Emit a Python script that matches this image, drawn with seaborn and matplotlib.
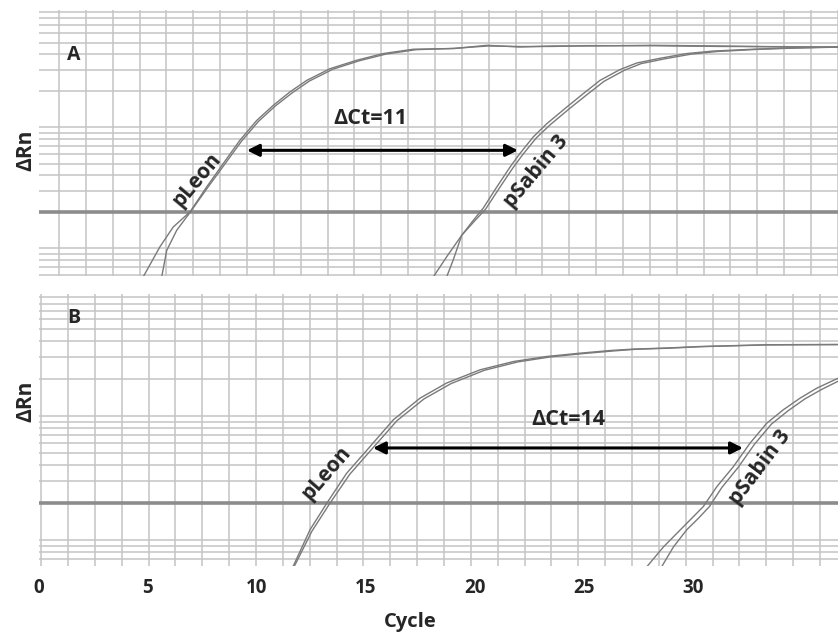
import matplotlib
matplotlib.use("Agg")
import matplotlib.pyplot as plt
from matplotlib.ticker import LogLocator, MultipleLocator, NullFormatter, FixedLocator
import seaborn as sns
import pandas as pd

# ---- data (cycle, delta Rn) ----
threshold = 0.2

# panel A
leon_a_cyc_1 = [4.78, 5.55, 6.16, 6.93, 7.69, 8.45, 9.22, 9.99, 10.75, 11.51, 12.28, 13.35, 14.57,
                15.79, 17.17, 19.0, 20.54, 22.06, 23.58, 25.12, 28.17, 31.24, 34.30, 36.65]
leon_a_rn_1 = [0.058, 0.103, 0.150, 0.200, 0.321, 0.501, 0.782, 1.14, 1.52, 1.96, 2.44, 3.05, 3.58,
               4.07, 4.42, 4.47, 4.76, 4.61, 4.70, 4.70, 4.76, 4.70, 4.61, 4.61]
leon_a_cyc_2 = [5.63, 5.86, 6.32, 6.95, 7.74, 8.52, 9.30, 10.07, 10.84, 11.62, 12.40, 13.48, 14.70,
                15.92, 17.30, 19.1, 20.6, 22.1, 23.6, 25.1, 28.2, 31.2, 34.3, 36.65]
leon_a_rn_2 = [0.058, 0.096, 0.141, 0.200, 0.318, 0.495, 0.772, 1.12, 1.50, 1.93, 2.41, 3.02, 3.55,
               4.03, 4.38, 4.50, 4.70, 4.65, 4.66, 4.73, 4.72, 4.66, 4.64, 4.58]

sabin_a_cyc_1 = [18.09, 18.70, 19.39, 19.92, 20.38, 21.00, 21.61, 22.06, 22.67, 23.29, 24.21, 24.97,
                 25.73, 26.65, 27.42, 28.49, 29.71, 30.93, 32.77, 34.30, 36.65]
sabin_a_rn_1 = [0.058, 0.085, 0.128, 0.170, 0.215, 0.321, 0.470, 0.607, 0.832, 1.07, 1.47, 1.90,
                2.44, 3.00, 3.40, 3.72, 4.07, 4.27, 4.42, 4.52, 4.62]
sabin_a_cyc_2 = [18.70, 19.00, 19.39, 19.98, 20.48, 21.12, 21.74, 22.20, 22.82, 23.45, 24.38, 25.15,
                 25.92, 26.85, 27.62, 28.70, 29.90, 31.10, 32.90, 34.40, 36.65]
sabin_a_rn_2 = [0.058, 0.080, 0.128, 0.168, 0.210, 0.315, 0.462, 0.598, 0.820, 1.05, 1.45, 1.87,
                2.40, 2.96, 3.36, 3.68, 4.02, 4.23, 4.40, 4.50, 4.60]

# panel B
leon_b_cyc_1 = [11.65, 12.43, 13.20, 14.11, 15.18, 16.25, 17.48, 18.70, 20.23, 21.76, 23.29, 24.82,
                26.19, 27.25, 28.79, 30.32, 33.38, 36.65]
leon_b_rn_1 = [0.061, 0.121, 0.198, 0.345, 0.565, 0.929, 1.39, 1.84, 2.35, 2.74, 3.01, 3.20,
               3.36, 3.45, 3.52, 3.62, 3.74, 3.76]
leon_b_cyc_2 = [11.70, 12.52, 13.32, 14.25, 15.33, 16.42, 17.66, 18.90, 20.43, 21.96, 23.49, 25.0,
                26.4, 27.4, 28.9, 30.4, 33.4, 36.65]
leon_b_rn_2 = [0.061, 0.118, 0.195, 0.338, 0.556, 0.915, 1.37, 1.82, 2.33, 2.72, 2.99, 3.18,
               3.34, 3.44, 3.51, 3.61, 3.73, 3.75]

sabin_b_cyc_1 = [27.88, 28.64, 29.25, 29.86, 30.47, 31.09, 31.85, 32.61, 33.38, 34.14, 34.91, 35.67, 36.65]
sabin_b_rn_1 = [0.061, 0.088, 0.113, 0.145, 0.186, 0.269, 0.390, 0.602, 0.873, 1.12, 1.39, 1.67, 2.01]
sabin_b_cyc_2 = [28.56, 29.10, 29.71, 30.25, 30.75, 31.32, 32.07, 32.83, 33.60, 34.36, 35.13, 35.89, 36.65]
sabin_b_rn_2 = [0.061, 0.088, 0.121, 0.150, 0.186, 0.265, 0.385, 0.595, 0.860, 1.10, 1.37, 1.63, 1.90]

# delta Ct annotations: (Ct pLeon, Ct pSabin 3, label)
dct_a = (9.54, 21.97, "ΔCt=11")
dct_b = (15.32, 32.29, "ΔCt=14")

x_ticks = [0, 5, 10, 15, 20, 25, 30]


def make_frame(traces):
    rows = []
    for name, cyc, rn in traces:
        rows.append(pd.DataFrame({"cycle": cyc, "rn": rn, "trace": name}))
    return pd.concat(rows, ignore_index=True)


df_a = make_frame([("leon1", leon_a_cyc_1, leon_a_rn_1), ("leon2", leon_a_cyc_2, leon_a_rn_2),
                   ("sabin1", sabin_a_cyc_1, sabin_a_rn_1), ("sabin2", sabin_a_cyc_2, sabin_a_rn_2)])
df_b = make_frame([("leon1", leon_b_cyc_1, leon_b_rn_1), ("leon2", leon_b_cyc_2, leon_b_rn_2),
                   ("sabin1", sabin_b_cyc_1, sabin_b_rn_1), ("sabin2", sabin_b_cyc_2, sabin_b_rn_2)])

sns.set_theme(style="white")
plt.rcParams["font.family"] = ["Open Sans", "DejaVu Sans"]
plt.rcParams["font.weight"] = "bold"

fig = plt.figure(figsize=(8.38, 6.33), dpi=100)
ax_a = fig.add_axes([0.0465, 0.564, 0.9535, 0.420])
ax_b = fig.add_axes([0.0465, 0.106, 0.9535, 0.4297])

grid_col = "#c4c4c4"
curve_col = "#7a7a7a"


def style_panel(ax, df, ylim, grid_offset):
    ax.set_yscale("log")
    sns.lineplot(data=df, x="cycle", y="rn", units="trace", estimator=None, sort=False,
                 color=curve_col, lw=1.0, ax=ax, legend=False)
    ax.set_xlim(0, 36.65)
    ax.set_ylim(*ylim)
    ax.yaxis.set_major_locator(LogLocator(base=10, numticks=10))
    ax.yaxis.set_minor_locator(LogLocator(base=10, subs=range(2, 10), numticks=20))
    ax.yaxis.set_major_formatter(NullFormatter())
    ax.yaxis.set_minor_formatter(NullFormatter())
    ax.xaxis.set_major_locator(FixedLocator(x_ticks))
    ax.xaxis.set_minor_locator(MultipleLocator(1.232, offset=grid_offset))
    ax.grid(False)
    ax.grid(True, which="both", axis="y", color=grid_col, lw=1.1, zorder=0)
    ax.grid(True, which="minor", axis="x", color=grid_col, lw=1.1, zorder=0)
    ax.axhline(threshold, color="#8c8c8c", lw=2.6, zorder=1)
    ax.tick_params(which="both", length=0)
    for s in ax.spines.values():
        s.set_visible(False)
    ax.set_xlabel("")
    ax.set_ylabel("")


style_panel(ax_a, df_a, (0.059, 9.3), 0.917)
style_panel(ax_b, df_b, (0.062, 9.6), 1.33)

ax_a.set_xticklabels([])
ax_b.set_xticklabels([str(t) for t in x_ticks], fontsize=13.5, fontweight="bold")
ax_b.tick_params(axis="x", pad=9)

arrow_kw = dict(arrowstyle="<|-|>", color="black", lw=2.2, mutation_scale=18, shrinkA=0, shrinkB=0)
ax_a.annotate("", xy=(dct_a[0], 0.645), xytext=(dct_a[1], 0.645), arrowprops=arrow_kw)
ax_a.text(15.18, 1.19, dct_a[2], ha="center", va="center", fontsize=15.5, fontweight="bold")
ax_b.annotate("", xy=(dct_b[0], 0.552), xytext=(dct_b[1], 0.552), arrowprops=arrow_kw)
ax_b.text(24.27, 0.93, dct_b[2], ha="center", va="center", fontsize=15.5, fontweight="bold")

lab_kw = dict(ha="center", va="center", fontsize=15, fontweight="bold")
ax_a.text(7.25, 0.365, "pLeon", rotation=50, **lab_kw)
ax_a.text(22.8, 0.433, "pSabin 3", rotation=50, **lab_kw)
ax_b.text(13.2, 0.346, "pLeon", rotation=49, **lab_kw)
ax_b.text(33.07, 0.381, "pSabin 3", rotation=53, **lab_kw)

ax_a.text(0.043, 0.83, "A", transform=ax_a.transAxes, ha="center", va="center", fontsize=14, fontweight="bold")
ax_b.text(0.043, 0.91, "B", transform=ax_b.transAxes, ha="center", va="center", fontsize=14, fontweight="bold")

fig.text(26 / 838, 1 - 150 / 633, "ΔRn", rotation=90, ha="center", va="center", fontsize=15, fontweight="bold")
fig.text(26 / 838, 1 - 401 / 633, "ΔRn", rotation=90, ha="center", va="center", fontsize=15, fontweight="bold")
fig.text(410 / 838, 1 - 622 / 633, "Cycle", ha="center", va="center", fontsize=14.5, fontweight="bold")

fig.savefig("out.png", dpi=100)
